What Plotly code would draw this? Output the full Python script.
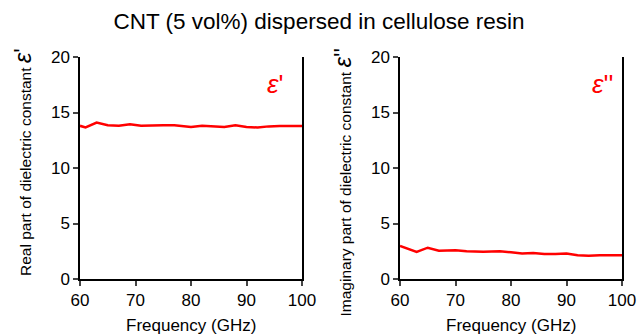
import plotly.graph_objects as go

freq_real = [60, 61, 63, 65, 67, 69, 71, 73, 75, 77, 80, 82, 84, 86, 88, 90, 92, 94, 96, 100]
eps_real = [13.8, 13.65, 14.1, 13.85, 13.8, 13.95, 13.8, 13.85, 13.85, 13.85, 13.7, 13.8, 13.75, 13.7, 13.85, 13.7, 13.65, 13.75, 13.78, 13.78]

freq_imag = [60, 63, 65, 67, 70, 72, 75, 78, 80, 82, 84, 86, 88, 90, 92, 94, 96, 100]
eps_imag = [2.97, 2.45, 2.82, 2.55, 2.6, 2.5, 2.45, 2.5, 2.4, 2.3, 2.35, 2.25, 2.25, 2.3, 2.15, 2.1, 2.15, 2.15]

x_ticks = [60, 70, 80, 90, 100]
y_ticks = [0, 5, 10, 15, 20]

title_text = "CNT (5 vol%) dispersed in cellulose resin"
x_title = "Frequency (GHz)"
y_title_left = "Real part of dielectric constant <span style='font-size:24px'><i>ε</i>'</span>"
y_title_right = "Imaginary part of dielectric constant <span style='font-size:24px'><i>ε</i>''</span>"

RED = "#ff0000"
FONT = "Liberation Sans, Arial, sans-serif"

fig = go.Figure()
fig.add_trace(go.Scatter(x=freq_real, y=eps_real, mode="lines",
                         line=dict(color=RED, width=2.5), xaxis="x", yaxis="y", showlegend=False))
fig.add_trace(go.Scatter(x=freq_imag, y=eps_imag, mode="lines",
                         line=dict(color=RED, width=2.5), xaxis="x2", yaxis="y2", showlegend=False))

H, W = 335, 638
y_dom = [1 - 279 / H, 1 - 57 / H]
common_x = dict(range=[60, 100], tickvals=x_ticks, ticks="outside", ticklen=5, tickwidth=1.5,
                showline=True, linecolor="black", linewidth=1.5, showgrid=False, zeroline=False,
                automargin=False, tickfont=dict(size=17, color="black", family=FONT))
common_y = dict(range=[0, 20], tickvals=y_ticks, ticks="outside", ticklen=5, tickwidth=1.5,
                showline=True, linecolor="black", linewidth=1.5, mirror=True, showgrid=False, zeroline=False,
                automargin=False, tickfont=dict(size=17, color="black", family=FONT), domain=y_dom)

title_font = dict(size=15.5, color="black", family=FONT)
xt_font = dict(size=17, color="black", family=FONT)

fig.update_layout(
    width=W, height=H, autosize=False,
    margin=dict(l=0, r=0, t=0, b=0),
    paper_bgcolor="white", plot_bgcolor="white",
    title=dict(text=title_text, x=0.5, xanchor="center", y=1 - 21 / H, yanchor="middle",
               font=dict(size=22.5, color="black", family=FONT)),
    xaxis=dict(domain=[80 / W, 302 / W], anchor="y", **common_x),
    yaxis=dict(anchor="x", **common_y),
    xaxis2=dict(domain=[400 / W, 622 / W], anchor="y2", **common_x),
    yaxis2=dict(anchor="x2", **common_y),
    annotations=[
        dict(text="<i>ε</i>'", x=97, y=17.6, xref="x", yref="y", xanchor="right", yanchor="middle",
             showarrow=False, font=dict(size=26, color=RED, family=FONT)),
        dict(text="<i>ε</i>''", x=98.8, y=17.6, xref="x2", yref="y2", xanchor="right", yanchor="middle",
             showarrow=False, font=dict(size=26, color=RED, family=FONT)),
        dict(text=y_title_left, textangle=-90, x=22 / W, y=1 - 46 / H, xref="paper", yref="paper",
             xanchor="center", yanchor="top", showarrow=False, font=title_font),
        dict(text=y_title_right, textangle=-90, x=342 / W, y=1 - 46 / H, xref="paper", yref="paper",
             xanchor="center", yanchor="top", showarrow=False, font=title_font),
        dict(text=x_title, x=191 / W, y=1 - 325 / H, xref="paper", yref="paper",
             xanchor="center", yanchor="middle", showarrow=False, font=xt_font),
        dict(text=x_title, x=511 / W, y=1 - 325 / H, xref="paper", yref="paper",
             xanchor="center", yanchor="middle", showarrow=False, font=xt_font),
    ],
)

fig.write_html("out.html")
